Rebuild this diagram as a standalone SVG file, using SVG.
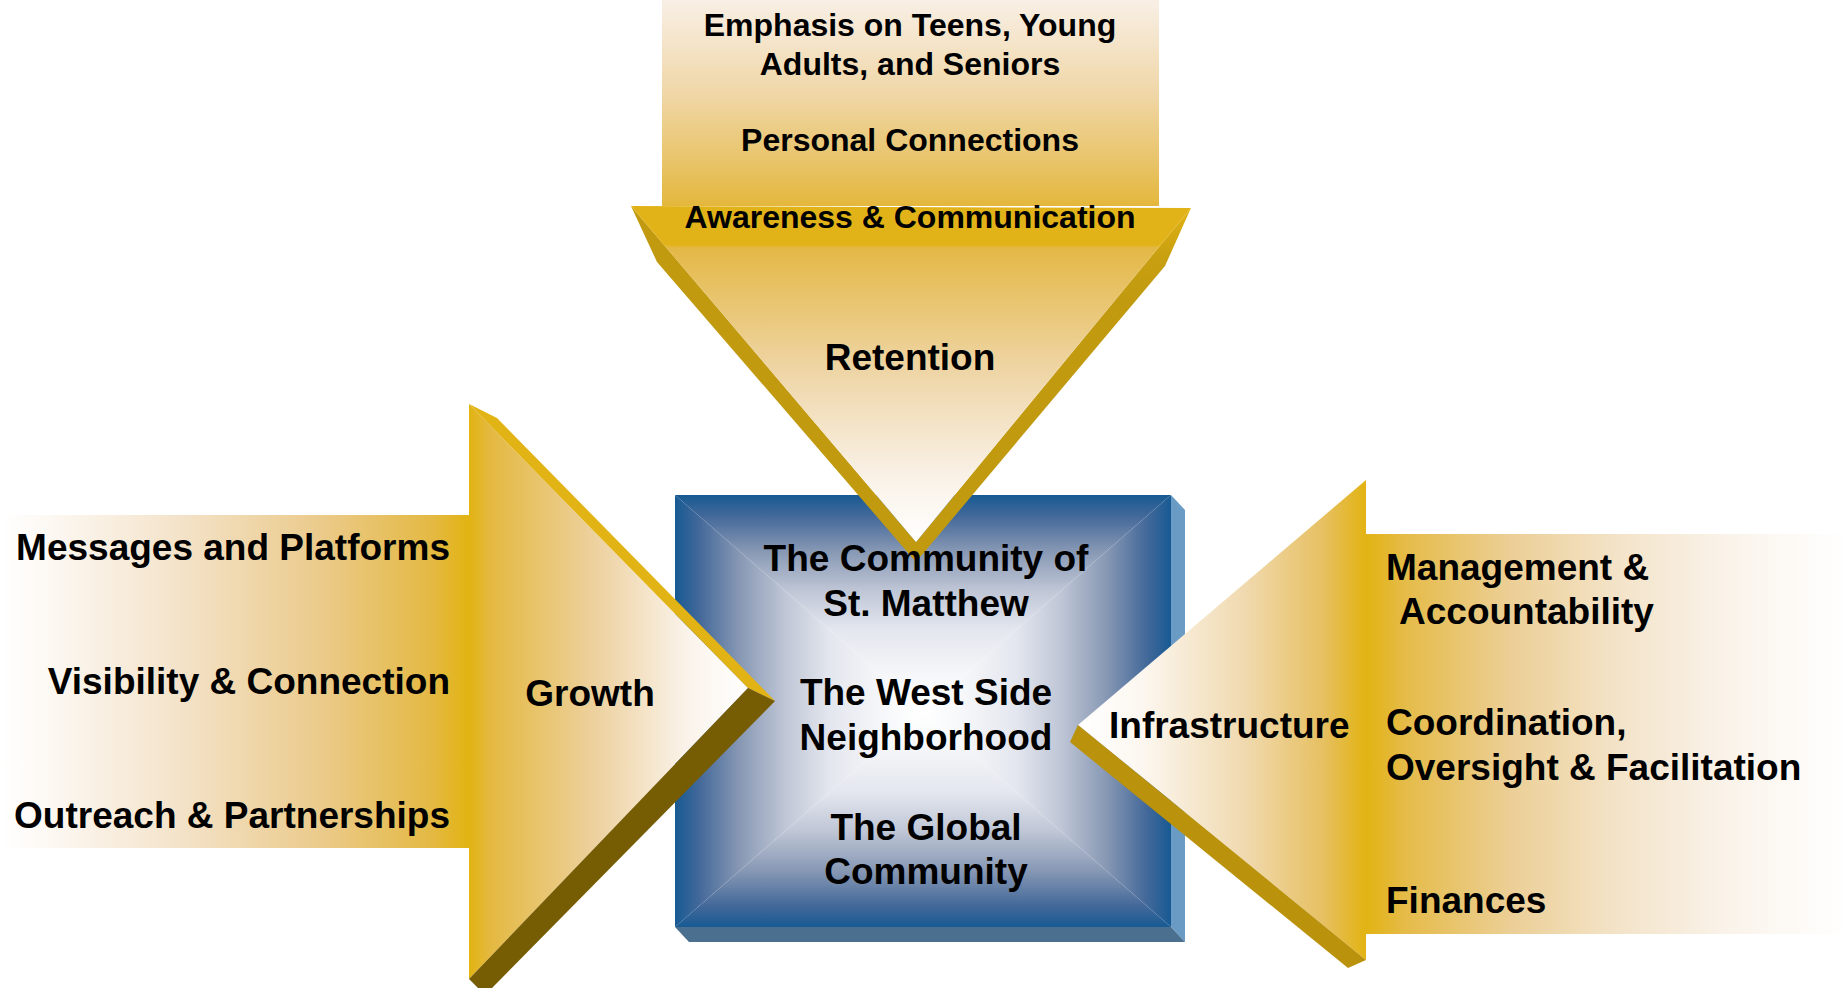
<svg xmlns="http://www.w3.org/2000/svg" width="1848" height="988" viewBox="0 0 1848 988">
<defs>
<style>
text{font-family:"Liberation Sans",Arial,sans-serif;font-weight:bold;fill:#000}
.t37{font-size:37px}
.t32{font-size:32px}
.mid{text-anchor:middle}
.end{text-anchor:end}
</style>
<linearGradient id="topShaft" gradientUnits="userSpaceOnUse" x1="0" y1="0" x2="0" y2="206">
<stop offset="0" stop-color="#F8EFE5"/><stop offset="0.45" stop-color="#F0D7A8"/><stop offset="0.8" stop-color="#E8C366"/><stop offset="1" stop-color="#E4B73C"/>
</linearGradient>
<linearGradient id="topHead" gradientUnits="userSpaceOnUse" x1="0" y1="206" x2="0" y2="542">
<stop offset="0" stop-color="#E2B318"/><stop offset="0.115" stop-color="#E2B318"/><stop offset="0.125" stop-color="#E4B846"/><stop offset="0.5" stop-color="#EFD6A8"/><stop offset="0.8" stop-color="#F9F1E6"/><stop offset="1" stop-color="#FFFFFF"/>
</linearGradient>
<linearGradient id="leftShaft" gradientUnits="userSpaceOnUse" x1="0" y1="0" x2="469" y2="0">
<stop offset="0" stop-color="#FFFFFF"/><stop offset="0.08" stop-color="#FDFAF6"/><stop offset="0.38" stop-color="#F4E3CA"/><stop offset="0.68" stop-color="#EBCB8C"/><stop offset="0.92" stop-color="#E4B944"/><stop offset="1" stop-color="#E2B312"/>
</linearGradient>
<linearGradient id="leftHead" gradientUnits="userSpaceOnUse" x1="469" y1="0" x2="748" y2="0">
<stop offset="0" stop-color="#E2B312"/><stop offset="0.08" stop-color="#E4B942"/><stop offset="0.45" stop-color="#EDD19E"/><stop offset="0.78" stop-color="#FAF3EA"/><stop offset="1" stop-color="#FFFFFF"/>
</linearGradient>
<linearGradient id="rightHead" gradientUnits="userSpaceOnUse" x1="1079" y1="0" x2="1366" y2="0">
<stop offset="0" stop-color="#FFFFFF"/><stop offset="0.22" stop-color="#FCF7F0"/><stop offset="0.58" stop-color="#F0D9AE"/><stop offset="0.85" stop-color="#E7C062"/><stop offset="1" stop-color="#E2B312"/>
</linearGradient>
<linearGradient id="rightShaft" gradientUnits="userSpaceOnUse" x1="1366" y1="0" x2="1848" y2="0">
<stop offset="0" stop-color="#E2B312"/><stop offset="0.08" stop-color="#E5BB48"/><stop offset="0.3" stop-color="#ECCF96"/><stop offset="0.52" stop-color="#F3E3C8"/><stop offset="0.75" stop-color="#FAF3EA"/><stop offset="1" stop-color="#FFFFFF"/>
</linearGradient>
<linearGradient id="boxT" gradientUnits="userSpaceOnUse" x1="0" y1="495" x2="0" y2="711">
<stop offset="0" stop-color="#175A93"/><stop offset="0.1" stop-color="#44699A"/><stop offset="0.26" stop-color="#8798B4"/><stop offset="0.44" stop-color="#BEC5D5"/><stop offset="0.62" stop-color="#E3E6EE"/><stop offset="0.85" stop-color="#F7F8FA"/><stop offset="1" stop-color="#FFFFFF"/>
</linearGradient>
<linearGradient id="boxB" gradientUnits="userSpaceOnUse" x1="0" y1="927" x2="0" y2="711">
<stop offset="0" stop-color="#175A93"/><stop offset="0.1" stop-color="#44699A"/><stop offset="0.26" stop-color="#8798B4"/><stop offset="0.44" stop-color="#BEC5D5"/><stop offset="0.62" stop-color="#E3E6EE"/><stop offset="0.85" stop-color="#F7F8FA"/><stop offset="1" stop-color="#FFFFFF"/>
</linearGradient>
<linearGradient id="boxL" gradientUnits="userSpaceOnUse" x1="675" y1="0" x2="923" y2="0">
<stop offset="0" stop-color="#175A93"/><stop offset="0.1" stop-color="#44699A"/><stop offset="0.26" stop-color="#8798B4"/><stop offset="0.44" stop-color="#BEC5D5"/><stop offset="0.62" stop-color="#E3E6EE"/><stop offset="0.85" stop-color="#F7F8FA"/><stop offset="1" stop-color="#FFFFFF"/>
</linearGradient>
<linearGradient id="boxR" gradientUnits="userSpaceOnUse" x1="1171" y1="0" x2="923" y2="0">
<stop offset="0" stop-color="#175A93"/><stop offset="0.1" stop-color="#44699A"/><stop offset="0.26" stop-color="#8798B4"/><stop offset="0.44" stop-color="#BEC5D5"/><stop offset="0.62" stop-color="#E3E6EE"/><stop offset="0.85" stop-color="#F7F8FA"/><stop offset="1" stop-color="#FFFFFF"/>
</linearGradient>
<linearGradient id="topBevelR" gradientUnits="userSpaceOnUse" x1="0" y1="208" x2="0" y2="300">
<stop offset="0" stop-color="#E2B314"/><stop offset="0.5" stop-color="#C9A010"/><stop offset="1" stop-color="#C19A0F"/>
</linearGradient>
</defs>
<rect width="1848" height="988" fill="#FFFFFF"/>

<g id="center-box">
<polygon points="1171,495 1185,510 1185,942 1171,927" fill="#6A9BC5"/>
<polygon points="675,927 1171,927 1185,942 689,942" fill="#4A6F8F"/>
<polygon points="675,495 1171,495 923,711" fill="url(#boxT)"/>
<polygon points="675,927 1171,927 923,711" fill="url(#boxB)"/>
<polygon points="675,495 675,927 923,711" fill="url(#boxL)"/>
<polygon points="1171,495 1171,927 923,711" fill="url(#boxR)"/>
</g>

<g id="connectors">
<g id="arrow-retention">
<polygon points="631,206 657,262 916,562 916,542" fill="#C19A0F"/>
<polygon points="1191,208 1165,266 916,562 916,542" fill="url(#topBevelR)"/>
<rect x="662" y="0" width="497" height="206" fill="url(#topShaft)"/>
<polygon points="631,206 1191,208 916,542" fill="url(#topHead)"/>
</g>
<g id="arrow-growth">
<rect x="0" y="515" width="469" height="333" fill="url(#leftShaft)"/>
<polygon points="469,404 748,688 469,979" fill="url(#leftHead)"/>
<polygon points="469,404 497,418 775,701 748,688" fill="#E2B314"/>
<polygon points="748,688 775,701 492,988 478,988 469,979" fill="#765C02"/>
</g>
<g id="arrow-infrastructure">
<rect x="1366" y="534" width="482" height="400" fill="url(#rightShaft)"/>
<polygon points="1366,480 1078,725 1366,960" fill="url(#rightHead)"/>
<polygon points="1078,725 1070,742 1348,968 1366,960" fill="#BA920B"/>
</g>
</g>

<g id="node-retention">
<text class="t32 mid" x="910" y="36">Emphasis on Teens, Young</text>
<text class="t32 mid" x="910" y="75">Adults, and Seniors</text>
<text class="t32 mid" x="910" y="151">Personal Connections</text>
<text class="t32 mid" x="910" y="228">Awareness &amp; Communication</text>
<text class="t37 mid" x="910" y="370">Retention</text>
</g>

<g id="node-growth">
<text class="t37 end" x="450" y="560">Messages and Platforms</text>
<text class="t37 end" x="450" y="694">Visibility &amp; Connection</text>
<text class="t37 end" x="450" y="828">Outreach &amp; Partnerships</text>
<text class="t37 mid" x="590" y="706">Growth</text>
</g>

<g id="node-infrastructure">
<text class="t37" x="1109" y="738">Infrastructure</text>
<text class="t37" x="1386" y="580">Management &amp;</text>
<text class="t37" x="1399" y="624">Accountability</text>
<text class="t37" x="1386" y="735">Coordination,</text>
<text class="t37" x="1386" y="780">Oversight &amp; Facilitation</text>
<text class="t37" x="1386" y="913">Finances</text>
</g>

<g id="node-community">
<text class="t37 mid" x="926" y="571">The Community of</text>
<text class="t37 mid" x="926" y="616">St. Matthew</text>
<text class="t37 mid" x="926" y="705">The West Side</text>
<text class="t37 mid" x="926" y="750">Neighborhood</text>
<text class="t37 mid" x="926" y="840">The Global</text>
<text class="t37 mid" x="926" y="884">Community</text>
</g>
</svg>
